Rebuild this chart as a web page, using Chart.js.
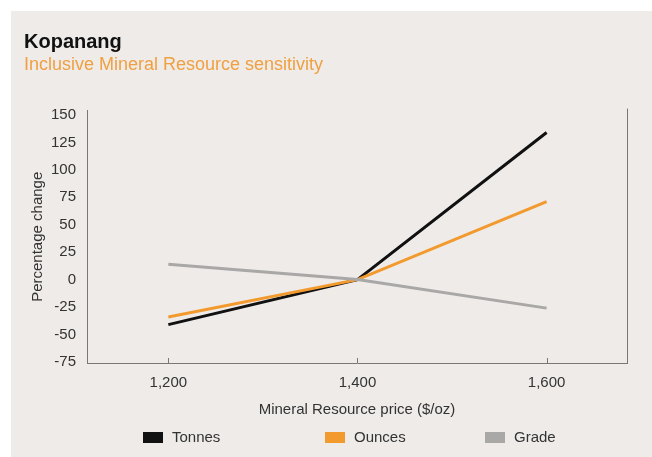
<!DOCTYPE html>
<html>
<head>
<meta charset="utf-8">
<script src="https://cdn.jsdelivr.net/npm/chart.js@4"></script>
<style>
  html, body { margin: 0; padding: 0; background: #fff; }
  #wrap { width: 652px; height: 457px; }
</style>
</head>
<body>
<div id="wrap"><canvas id="kopanangChart"></canvas></div>
<script>
// prices on the x axis ($/oz)
const prices = [1200, 1400, 1600];
// percentage change per series
const tonnes = [-41, 0, 134];
const ounces = [-34, 0, 71];
const grade = [14, 0, -26];
const yTicks = [150, 125, 100, 75, 50, 25, 0, -25, -50, -75];

const FONT = "'Liberation Sans', Arial, sans-serif";

function points(values) {
  return prices.map((p, i) => ({ x: p, y: values[i] }));
}

// grey panel behind, right border line, inward x tick marks, legend row
const decorations = {
  id: 'decorations',
  beforeDraw(chart) {
    const ctx = chart.ctx;
    ctx.save();
    ctx.fillStyle = '#eeebe9';
    ctx.fillRect(11, 11, chart.width - 11, chart.height - 11);
    ctx.restore();
  },
  afterDraw(chart) {
    const ctx = chart.ctx;
    const area = chart.chartArea;
    const xs = chart.scales.x;
    ctx.save();
    ctx.strokeStyle = '#777';
    ctx.lineWidth = 1;
    ctx.beginPath();
    ctx.moveTo(area.right + 0.5, area.top - 2);
    ctx.lineTo(area.right + 0.5, area.bottom);
    prices.forEach(p => {
      const px = Math.round(xs.getPixelForValue(p)) + 0.5;
      ctx.moveTo(px, area.bottom);
      ctx.lineTo(px, area.bottom - 5);
    });
    ctx.stroke();

    // legend: one column per dataset
    const cols = [143, 325, 485];
    const y = chart.height - 20;
    ctx.font = '15px ' + FONT;
    ctx.textBaseline = 'middle';
    chart.data.datasets.forEach((ds, i) => {
      ctx.fillStyle = ds.borderColor;
      ctx.fillRect(cols[i], y - 5, 20, 11);
      ctx.fillStyle = '#333';
      ctx.fillText(ds.label, cols[i] + 29, y + 1);
    });
    ctx.restore();
  }
};

const canvas = document.getElementById('kopanangChart');
const chart = new Chart(canvas, {
  type: 'line',
  data: {
    datasets: [{
      label: 'Tonnes',
      data: points(tonnes),
      borderColor: '#111111',
      backgroundColor: '#111111',
      order: 2
    }, {
      label: 'Ounces',
      data: points(ounces),
      borderColor: '#f39a2e',
      backgroundColor: '#f39a2e',
      order: 1
    }, {
      label: 'Grade',
      data: points(grade),
      borderColor: '#a9a8a7',
      backgroundColor: '#a9a8a7',
      order: 0
    }]
  },
  options: {
    responsive: true,
    maintainAspectRatio: false,
    animation: false,
    elements: {
      line: { borderWidth: 3, tension: 0 },
      point: { radius: 0, hoverRadius: 0 }
    },
    layout: { padding: { left: 24, right: 25, top: 30, bottom: 38 } },
    scales: {
      x: {
        type: 'linear',
        min: 1114,
        max: 1685,
        afterBuildTicks: axis => { axis.ticks = prices.map(v => ({ value: v })); },
        afterFit: axis => { axis.height = 56; },
        grid: { display: false, drawTicks: false },
        border: { display: true, color: '#777', width: 1 },
        ticks: {
          color: '#333',
          padding: 11,
          font: { family: FONT, size: 15 },
          callback: v => v.toLocaleString('en-US')
        },
        title: {
          display: true,
          text: 'Mineral Resource price ($/oz)',
          color: '#333',
          font: { family: FONT, size: 15 },
          padding: { top: 4, bottom: 0 }
        }
      },
      y: {
        min: -76,
        max: 154,
        afterBuildTicks: axis => { axis.ticks = yTicks.map(v => ({ value: v })); },
        afterFit: axis => { axis.width = 63; },
        grid: { display: false, drawTicks: false },
        border: { display: true, color: '#777', width: 1 },
        ticks: {
          color: '#333',
          padding: 11,
          font: { family: FONT, size: 15 }
        },
        title: {
          display: true,
          text: 'Percentage change',
          color: '#333',
          font: { family: FONT, size: 15 },
          padding: { top: 5, bottom: 0 }
        }
      }
    },
    plugins: {
      title: {
        display: true,
        text: 'Kopanang',
        align: 'start',
        color: '#111',
        font: { family: FONT, size: 20, weight: 'bold' },
        padding: { top: 0, bottom: 0 }
      },
      subtitle: {
        display: true,
        text: 'Inclusive Mineral Resource sensitivity',
        align: 'start',
        color: '#f0a040',
        font: { family: FONT, size: 18 },
        padding: { top: 0, bottom: 35 }
      },
      legend: { display: false },
      tooltip: { enabled: false }
    }
  },
  plugins: [decorations]
});
</script>
</body>
</html>
